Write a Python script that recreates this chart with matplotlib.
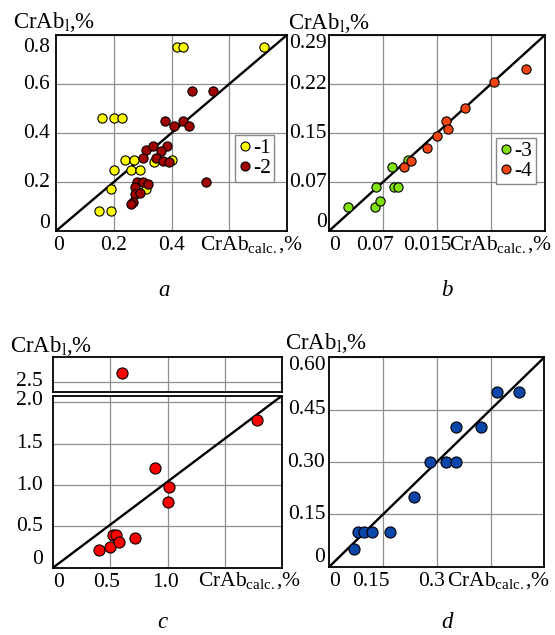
import matplotlib
matplotlib.use('Agg')
import matplotlib.pyplot as plt
from matplotlib.lines import Line2D

plt.rcParams['font.family'] = ['Liberation Serif', 'DejaVu Serif']
plt.rcParams['mathtext.fontset'] = 'custom'
plt.rcParams['mathtext.rm'] = 'Liberation Serif'
plt.rcParams['mathtext.it'] = 'Liberation Serif:italic'

# ---------------- data ----------------
a1_x = [0.15, 0.19, 0.19, 0.20, 0.16, 0.20, 0.23, 0.24, 0.27, 0.26, 0.29, 0.31, 0.34, 0.40, 0.42, 0.44, 0.72]
a1_y = [0.08, 0.08, 0.17, 0.25, 0.46, 0.46, 0.46, 0.29, 0.29, 0.25, 0.25, 0.17, 0.28, 0.29, 0.75, 0.75, 0.75]
a2_x = [0.47, 0.545, 0.377, 0.41, 0.44, 0.46, 0.31, 0.335, 0.385, 0.365, 0.30, 0.345, 0.37, 0.39,
        0.28, 0.30, 0.32, 0.275, 0.275, 0.29, 0.265, 0.26, 0.52]
a2_y = [0.57, 0.57, 0.45, 0.43, 0.45, 0.43, 0.33, 0.345, 0.345, 0.325, 0.30, 0.30, 0.285, 0.28,
        0.20, 0.20, 0.19, 0.18, 0.15, 0.155, 0.12, 0.11, 0.20]

b3_x = [0.025, 0.062, 0.068, 0.063, 0.087, 0.093, 0.085, 0.106]
b3_y = [0.035, 0.035, 0.044, 0.065, 0.065, 0.065, 0.095, 0.105]
b4_x = [0.101, 0.110, 0.132, 0.145, 0.157, 0.160, 0.183, 0.222, 0.265]
b4_y = [0.094, 0.103, 0.123, 0.141, 0.163, 0.151, 0.182, 0.221, 0.240]

c_x = [0.40, 0.50, 0.52, 0.55, 0.58, 0.72, 0.89, 1.01, 1.00, 1.78]
c_y = [0.21, 0.25, 0.40, 0.40, 0.31, 0.36, 1.20, 0.98, 0.80, 1.79]
c_out_x = [0.60]
c_out_y = [2.61]

d_x = [0.069, 0.079, 0.097, 0.120, 0.168, 0.237, 0.280, 0.325, 0.354, 0.354, 0.423, 0.468, 0.530]
d_y = [0.05, 0.10, 0.10, 0.10, 0.10, 0.20, 0.30, 0.30, 0.30, 0.40, 0.40, 0.50, 0.50]

legend_a = ['-1', '-2']
legend_b = ['-3', '-4']
panel_letters = ['a', 'b', 'c', 'd']

# ---------------- layout helpers ----------------
W, H = 555, 635
fig = plt.figure(figsize=(W / 100, H / 100), dpi=100)
FS = 15.5
FSL = 16.5
PT = 72 / 100.0  # points per pixel


def axes_px(l, t, r, b):
    return fig.add_axes([l / W, 1 - b / H, (r - l) / W, (b - t) / H])


def style(ax, xgrid, ygrid, xlim, ylim, diag=True):
    ax.set_xlim(xlim)
    ax.set_ylim(ylim)
    ax.set_xticks(xgrid)
    ax.set_yticks(ygrid)
    ax.tick_params(length=0, labelbottom=False, labelleft=False)
    ax.grid(True, color='#8f8f8f', lw=0.9)
    ax.set_axisbelow(True)
    for s in ax.spines.values():
        s.set_linewidth(1.3)
        s.set_color('black')
    if diag:
        ax.plot([0, 1], [0, 1], transform=ax.transAxes, color='black', lw=1.7, zorder=2)


def ylabels(ax, pos, labels, pad_px):
    for p, l in zip(pos, labels):
        ax.annotate(l, xy=(0, p), xycoords=('axes fraction', 'data'),
                    xytext=(-pad_px * PT, 0), textcoords='offset points',
                    ha='right', va='center', fontsize=FS, annotation_clip=False)


def xlabels(ax, pos, labels, base_px=19):
    for p, l in zip(pos, labels):
        ax.annotate(l, xy=(p, 0), xycoords=('data', 'axes fraction'),
                    xytext=(0, -base_px * PT), textcoords='offset points',
                    ha='center', va='baseline', fontsize=FS, annotation_clip=False)


def ftext(x, y, s, **kw):
    fig.text(x / W, 1 - y / H, s, **kw)


YLAB = 'CrAb$_{\\rm l}$,%'
XLAB = 'CrAb$_{\\rm calc.}$,%'
mk = dict(edgecolor='black', linewidths=0.8, zorder=3)

# ---------------- panel a ----------------
axa = axes_px(56, 35, 287, 231)
style(axa, [0.2, 0.4, 0.6, 0.8], [0.2, 0.4, 0.6, 0.8], (0, 0.8), (0, 0.8))
axa.scatter(a1_x, a1_y, s=44, color='#FFFF00', **mk)
axa.scatter(a2_x, a2_y, s=44, color='#A00000', **mk)
ylabels(axa, [0.029, 0.2, 0.4, 0.6, 0.751], ['0', '0.2', '0.4', '0.6', '0.8'], 6)
xlabels(axa, [0.01, 0.2, 0.4], ['0', '0.2', '0.4'])
h = [Line2D([], [], ls='none', marker='o', ms=6.5, mfc=c, mec='black', mew=0.8)
     for c in ['#FFFF00', '#A00000']]
lg = axa.legend(h, legend_a, loc='upper left', bbox_to_anchor=(0.775, 0.49), fontsize=FS,
                handlelength=0.6, handletextpad=0.1, borderpad=0.15, labelspacing=0.0,
                borderaxespad=0, fancybox=False, framealpha=1, edgecolor='#888888')
lg.get_frame().set_linewidth(1.0)
ftext(13, 28, YLAB, fontsize=FSL, va='baseline')
ftext(303, 250, XLAB, fontsize=FS, va='baseline', ha='right')

# ---------------- panel b ----------------
axb = axes_px(329, 35, 545, 231)
g = [0.0725, 0.145, 0.2175, 0.29]
style(axb, g, g, (0, 0.29), (0, 0.29))
axb.scatter(b3_x, b3_y, s=44, color='#80E010', **mk)
axb.scatter(b4_x, b4_y, s=44, color='#F04510', **mk)
ylabels(axb, [0.012, 0.0725, 0.145, 0.2175, 0.278], ['0', '0.07', '0.15', '0.22', '0.29'], 2)
xlabels(axb, [0.007, 0.062, 0.1316], ['0', '0.07', '0.015'])
h = [Line2D([], [], ls='none', marker='o', ms=6.5, mfc=c, mec='black', mew=0.8)
     for c in ['#80E010', '#F04510']]
lg = axb.legend(h, legend_b, loc='upper left', bbox_to_anchor=(0.775, 0.475), fontsize=FS,
                handlelength=0.6, handletextpad=0.1, borderpad=0.15, labelspacing=0.0,
                borderaxespad=0, fancybox=False, framealpha=1, edgecolor='#888888')
lg.get_frame().set_linewidth(1.0)
ftext(288, 29, YLAB, fontsize=FSL, va='baseline')
ftext(552, 250, XLAB, fontsize=FS, va='baseline', ha='right')

# ---------------- panel c (broken axis) ----------------
axc_up = axes_px(53, 357.3, 282, 391.7)
style(axc_up, [0.5, 1.0, 1.5], [2.5], (0, 2.0), (2.38, 2.80), diag=False)
axc_up.scatter(c_out_x, c_out_y, s=64, color='#FF0000', **mk)
ylabels(axc_up, [2.5], ['2.5'], 10)

axc = axes_px(53, 395.7, 282, 567.7)
style(axc, [0.5, 1.0, 1.5], [0.5, 1.0, 1.5, 2.0], (0, 2.0), (0, 2.08))
axc.scatter(c_x, c_y, s=64, color='#FF0000', **mk)
ylabels(axc, [0.105, 0.5, 1.0, 1.5, 2.02], ['0', '0.5', '1.0', '1.5', '2.0'], 10)
xlabels(axc, [0.045, 0.47, 0.985], ['0', '0.5', '1.0'])
ftext(10, 352, YLAB, fontsize=FSL, va='baseline')
ftext(301, 586, XLAB, fontsize=FS, va='baseline', ha='right')

# ---------------- panel d ----------------
axd = axes_px(329.3, 357.3, 544.3, 566.7)
g = [0.15, 0.30, 0.45, 0.60]
style(axd, g, g, (0, 0.6), (0, 0.6))
axd.scatter(d_x, d_y, s=64, color='#0A46A8', **mk)
ylabels(axd, [0.025, 0.15, 0.30, 0.45, 0.576], ['0', '0.15', '0.30', '0.45', '0.60'], 4)
xlabels(axd, [0.014, 0.1165, 0.286], ['0', '0.15', '0.3'])
ftext(285, 349, YLAB, fontsize=FSL, va='baseline')
ftext(550, 586, XLAB, fontsize=FS, va='baseline', ha='right')

# ---------------- panel letters ----------------
for (x, y), s in zip([(164, 296), (447, 296), (162, 628), (447, 628)], panel_letters):
    ftext(x, y, s, fontsize=FSL, style='italic', ha='center', va='baseline')

fig.savefig('out.png', dpi=100)
